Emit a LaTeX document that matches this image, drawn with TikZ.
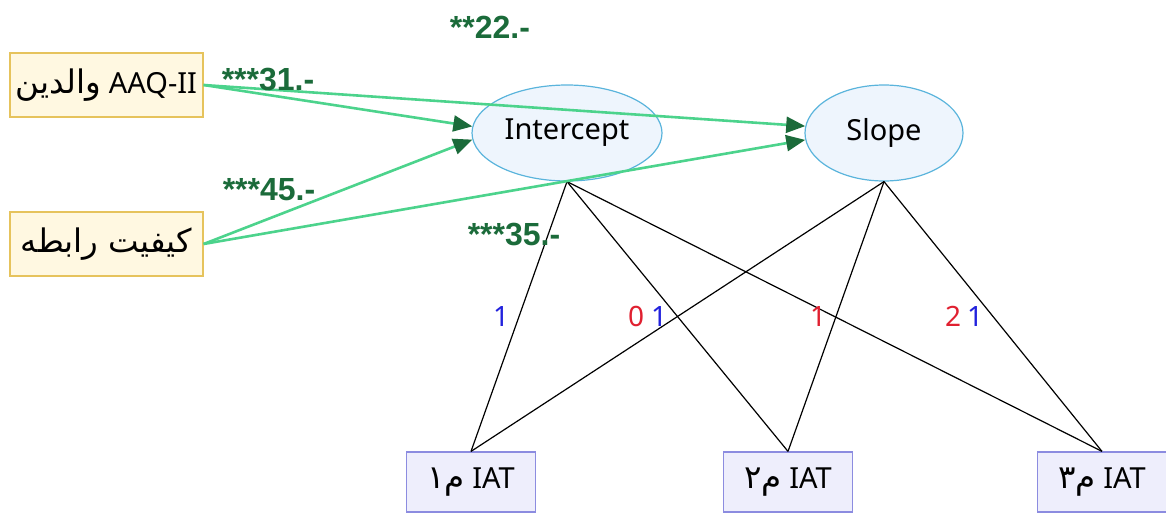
\documentclass[tikz,border=0pt]{standalone}
\usepackage{fontspec}
\setmainfont{Noto Sans}
\newfontfamily\arabicfont[Script=Arabic,Scale=1.12]{DejaVu Sans}
\newfontfamily\coeffont{Liberation Sans}
\TeXXeTstate=1
\usetikzlibrary{arrows.meta,shapes.geometric}
\definecolor{lgreen}{HTML}{4CD38C}
\definecolor{dgreen}{HTML}{1B6B3A}
\definecolor{yfill}{HTML}{FFF8E1}
\definecolor{ydraw}{HTML}{E6C35C}
\definecolor{efill}{HTML}{EEF5FD}
\definecolor{edraw}{HTML}{5AB4DC}
\definecolor{bfill}{HTML}{EEEEFC}
\definecolor{bdraw}{HTML}{8C8CE0}
\definecolor{lblue}{HTML}{2222DD}
\definecolor{lred}{HTML}{E02030}
\tikzset{
  txt/.style={font=\fontsize{29}{34}\selectfont, text=black},
  predbox/.style={txt, draw=ydraw, fill=yfill, line width=1.2pt, minimum width=193pt, minimum height=64pt, inner sep=0pt},
  latent/.style={txt, ellipse, draw=edraw, fill=efill, line width=1.2pt, minimum height=96pt, inner sep=0pt},
  obsbox/.style={txt, draw=bdraw, fill=bfill, line width=1.2pt, minimum width=129pt, minimum height=60pt, inner sep=0pt},
  garrow/.style={draw=lgreen, line width=2.6pt, -{Triangle[length=19pt,width=16pt,color=dgreen]}},
  load/.style={draw=black, line width=1.2pt},
  coef/.style={font=\coeffont\bfseries\fontsize{32}{36}\selectfont, text=dgreen, inner sep=0pt},
  num/.style={font=\fontsize{28}{32}\selectfont, inner sep=0pt}
}
\begin{document}
\begin{tikzpicture}[x=1pt,y=-1pt]
\useasboundingbox (0,0) rectangle (1166,514);
% nodes
\node[predbox] (aaq) at (106.5,85) {\beginR\beginL AAQ-II\endL\ {\arabicfont والدين}\endR};
\node[predbox] (rel) at (106.5,244) {\arabicfont\beginR کیفیت رابطه\endR};
\node[latent, minimum width=190pt] (int) at (567,133) {Intercept};
\node[latent, minimum width=158pt] (slo) at (884,133) {Slope};
\node[obsbox] (t1) at (471,482) {\beginR\beginL IAT\endL\ {\arabicfont م۱}\endR};
\node[obsbox] (t2) at (788,482) {\beginR\beginL IAT\endL\ {\arabicfont م۲}\endR};
\node[obsbox] (t3) at (1102,482) {\beginR\beginL IAT\endL\ {\arabicfont م۳}\endR};
% loadings
\draw[load] (int.south) -- (t1.north);
\draw[load] (int.south) -- (t2.north);
\draw[load] (int.south) -- (t3.north);
\draw[load] (slo.south) -- (t1.north);
\draw[load] (slo.south) -- (t2.north);
\draw[load] (slo.south) -- (t3.north);
% regressions
\draw[garrow] (aaq.east) -- (int.176);
\draw[garrow] (aaq.east) -- (slo.175);
\draw[garrow] (rel.east) -- (int.184);
\draw[garrow] (rel.east) -- (slo.185);
% coefficient labels
\node[coef] (c1) at (490,27) {**22.-};
\node[coef] (c2) at (268,80) {***31.-};
\node[coef] (c3) at (269,190) {***45.-};
\node[coef] (c4) at (514,235) {***35.-};
% loading labels
\node[num, text=lblue] (n1) at (501,316) {1};
\node[num, text=lred] (n2) at (636,316) {0};
\node[num, text=lblue] (n3) at (659,316) {1};
\node[num, text=lred] (n4) at (818,316) {1};
\node[num, text=lred] (n5) at (953,316) {2};
\node[num, text=lblue] (n6) at (975,316) {1};
\end{tikzpicture}
\end{document}
